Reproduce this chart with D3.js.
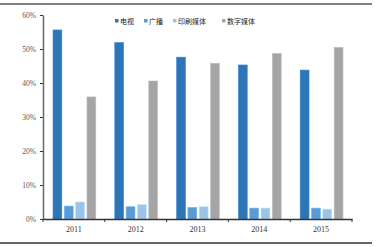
<!DOCTYPE html>
<html>
<head>
<meta charset="utf-8">
<script src="https://cdn.jsdelivr.net/npm/d3@7"></script>
<style>
  body { margin: 0; background: #fff; }
  svg { display: block; }
</style>
</head>
<body>
<div id="chart"></div>
<script>
const years = ['2011', '2012', '2013', '2014', '2015'];
const seriesNames = ['电视', '广播', '印刷媒体', '数字媒体'];
const tvShare = [55.6, 51.9, 47.6, 45.3, 43.8];
const radioShare = [3.8, 3.6, 3.4, 3.2, 3.2];
const printShare = [5.0, 4.2, 3.6, 3.2, 2.9];
const digitalShare = [35.9, 40.6, 45.8, 48.7, 50.5];
const yTicks = [0, 10, 20, 30, 40, 50, 60];

const colors = ['#2e75b6', '#5b9bd5', '#9dc3e6', '#a5a5a5'];
const allSeries = [tvShare, radioShare, printShare, digitalShare];

let width = 382, height = 247;

let svg = d3.select('#chart')
  .append('svg')
  .attr('width', width)
  .attr('height', height);

// frame rules top and bottom
svg.append('line').attr('x1', 0).attr('x2', 372).attr('y1', 4).attr('y2', 4)
  .attr('stroke', '#555').attr('stroke-width', 1.5);
svg.append('line').attr('x1', 0).attr('x2', 372).attr('y1', 243).attr('y2', 243)
  .attr('stroke', '#333').attr('stroke-width', 1.5);

let x = d3.scaleBand()
  .domain(years)
  .range([43, 352])
  .paddingInner(0)
  .paddingOuter(0);

let inner = d3.scaleBand()
  .domain(d3.range(seriesNames.length))
  .range([10, x.bandwidth() - 9])
  .paddingInner(0.22);

let y = d3.scaleLinear()
  .domain([0, 60])
  .range([219, 15]);

// bars
allSeries.forEach((vals, s) => {
  svg.append('g')
    .selectAll('rect')
    .data(vals)
    .join('rect')
    .attr('x', (d, i) => x(years[i]) + inner(s))
    .attr('y', d => y(d))
    .attr('width', inner.bandwidth())
    .attr('height', d => y(0) - y(d))
    .attr('fill', colors[s])
    .attr('stroke', d3.color(colors[s]).brighter(0.4))
    .attr('stroke-width', 0.6);
});

// y axis
let yAxis = svg.append('g')
  .attr('transform', 'translate(43,0)')
  .call(d3.axisLeft(y).tickValues(yTicks).tickFormat(d => d + '%').tickSize(3).tickSizeOuter(0));
yAxis.select('.domain').attr('stroke', '#666').attr('stroke-width', 1.5);
yAxis.selectAll('.tick line').attr('stroke', '#333');
yAxis.selectAll('text')
  .attr('x', -7)
  .attr('fill', '#555')
  .style('font-family', '"Liberation Serif", serif')
  .style('font-size', '7.5px');

// x axis
let xAxis = svg.append('g')
  .attr('transform', `translate(0,${y(0)})`)
  .call(d3.axisBottom(x).tickSize(0).tickSizeOuter(0));
xAxis.select('.domain').attr('stroke', '#333').attr('stroke-width', 1.3);
xAxis.selectAll('text')
  .attr('y', 7)
  .attr('fill', '#333')
  .style('font-family', '"Liberation Serif", serif')
  .style('font-size', '8px');

// category boundary ticks
svg.append('g')
  .selectAll('line')
  .data(years.concat(['end']))
  .join('line')
  .attr('x1', (d, i) => i < years.length ? x(d) : x.range()[1])
  .attr('x2', (d, i) => i < years.length ? x(d) : x.range()[1])
  .attr('y1', y(0))
  .attr('y2', y(0) + 3)
  .attr('stroke', '#333');

// legend
let legendX = [115, 144, 173, 222];
let legend = svg.append('g');
seriesNames.forEach((name, i) => {
  legend.append('rect')
    .attr('x', legendX[i])
    .attr('y', 19)
    .attr('width', 3.5)
    .attr('height', 3.5)
    .attr('fill', colors[i]);
  legend.append('text')
    .attr('x', legendX[i] + 5)
    .attr('y', 23.5)
    .attr('fill', '#222')
    .style('font-family', '"Noto Sans CJK SC", sans-serif')
    .style('font-size', '7px')
    .text(name);
});
</script>
</body>
</html>
